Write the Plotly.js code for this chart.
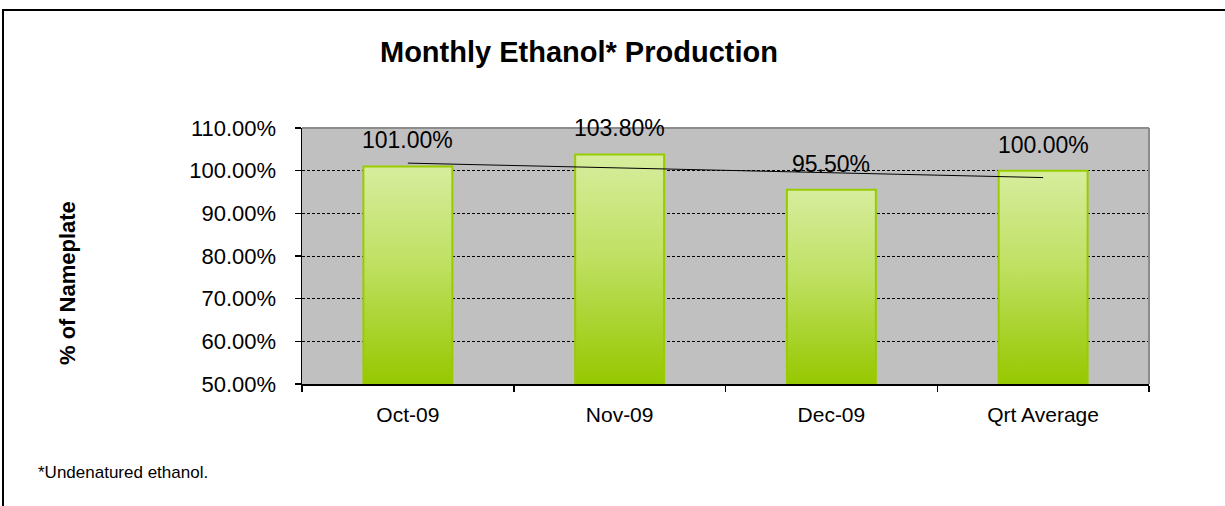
<!DOCTYPE html>
<html>
<head>
<meta charset="utf-8">
<script src="https://cdn.plot.ly/plotly-3.0.1.min.js"></script>
<style>
  html, body { margin: 0; padding: 0; background: #ffffff; }
  #chart { width: 1225px; height: 506px; }
</style>
</head>
<body>
<div id="chart"></div>
<script>
// ---- data ----
const categories = ["Oct-09", "Nov-09", "Dec-09", "Qrt Average"];
const nameplatePct = [101.00, 103.80, 95.50, 100.00];
const yTickVals = [50, 60, 70, 80, 90, 100, 110];
const chartTitle = "Monthly Ethanol* Production";
const yAxisTitle = "% of Nameplate";
const footnote = "*Undenatured ethanol.";

// linear trendline (least squares over the bar values, as in the source chart)
const n = nameplatePct.length;
const xs = nameplatePct.map((_, i) => i + 1);
const mx = xs.reduce((a, b) => a + b, 0) / n;
const my = nameplatePct.reduce((a, b) => a + b, 0) / n;
let sxy = 0, sxx = 0;
for (let i = 0; i < n; i++) { sxy += (xs[i] - mx) * (nameplatePct[i] - my); sxx += (xs[i] - mx) ** 2; }
const slope = sxy / sxx;
const trendVals = xs.map(x => my + slope * (x - mx));

const FONT = '"Liberation Sans", Arial, sans-serif';

const bars = {
  type: 'bar', x: categories, y: nameplatePct, width: 0.42,
  marker: { color: '#b8dc50', line: { color: '#99cc00', width: 2 } },
  hoverinfo: 'x+y'
};
const trend = {
  type: 'scatter', mode: 'lines', x: categories, y: trendVals,
  line: { color: '#000000', width: 1 }, hoverinfo: 'skip'
};

const labelAnns = categories.map((c, i) => ({
  x: c, y: nameplatePct[i], xref: 'x', yref: 'y',
  text: nameplatePct[i].toFixed(2) + '%',
  showarrow: false, yanchor: 'middle', yshift: 26,
  font: { family: FONT, size: 23, color: '#000000' }
}));

const layout = {
  width: 1225, height: 506,
  margin: { l: 302, r: 76, t: 128, b: 122 },
  paper_bgcolor: '#ffffff', plot_bgcolor: '#c0c0c0',
  showlegend: false,
  font: { family: FONT, color: '#000000' },
  title: {
    text: '<b>' + chartTitle + '</b>',
    font: { family: FONT, size: 29, color: '#000000' },
    xref: 'paper', x: 0.327, xanchor: 'center',
    yref: 'container', y: 1 - 52 / 506, yanchor: 'middle'
  },
  xaxis: {
    type: 'category', range: [-0.5, 3.5],
    showline: true, linecolor: '#000000', linewidth: 1.5,
    ticks: 'outside', tickson: 'boundaries', ticklen: 6, tickcolor: '#000000', tickwidth: 1.5,
    ticklabelstandoff: 11,
    tickfont: { family: FONT, size: 21, color: '#000000' },
    showgrid: false, zeroline: false, fixedrange: true
  },
  yaxis: {
    range: [50, 110], tickvals: yTickVals,
    ticktext: yTickVals.map(v => v.toFixed(2) + '%'),
    showline: true, linecolor: '#000000', linewidth: 1.5,
    ticks: 'outside', ticklen: 6, tickcolor: '#000000', tickwidth: 1.5,
    ticklabelstandoff: 14,
    tickfont: { family: FONT, size: 22, color: '#000000' },
    showgrid: true, gridcolor: '#000000', gridwidth: 1, griddash: '3px,2px',
    zeroline: false, fixedrange: true
  },
  shapes: [
    { type: 'line', xref: 'paper', yref: 'paper', x0: 0, x1: 1, y0: 1, y1: 1, line: { color: '#8c8c8c', width: 2 } },
    { type: 'line', xref: 'paper', yref: 'paper', x0: 1, x1: 1, y0: 0, y1: 1, line: { color: '#8c8c8c', width: 2 } },
    { type: 'rect', xref: 'paper', yref: 'paper',
      x0: (3 - 302) / 847, x1: (1245 - 302) / 847,
      y0: (384 - 525) / 256, y1: 1 + (128 - 10) / 256,
      line: { color: '#000000', width: 2 }, fillcolor: 'rgba(0,0,0,0)', layer: 'above' }
  ],
  annotations: labelAnns.concat([
    { xref: 'paper', yref: 'paper', x: (67 - 302) / 847, y: (384 - 283) / 256,
      text: '<b>' + yAxisTitle + '</b>', textangle: -90, showarrow: false,
      xanchor: 'center', yanchor: 'middle',
      font: { family: FONT, size: 22, color: '#000000' } },
    { xref: 'paper', yref: 'paper', x: (36 - 302) / 847, y: (384 - 472) / 256,
      text: footnote, showarrow: false, xanchor: 'left', yanchor: 'middle',
      font: { family: FONT, size: 17, color: '#000000' } }
  ])
};

// vertical gradient per bar over its visible extent (axis bottom -> bar top)
function applyGradient(gd) {
  const ns = 'http://www.w3.org/2000/svg';
  const svg = gd.querySelector('svg.main-svg');
  const ya = gd._fullLayout.yaxis;
  const yBottom = ya.l2p(ya.range[0]);
  let defs = document.getElementById('customDefs');
  if (!defs) {
    defs = document.createElementNS(ns, 'defs');
    defs.setAttribute('id', 'customDefs');
    svg.insertBefore(defs, svg.firstChild);
  }
  defs.innerHTML = '';
  gd.querySelectorAll('.barlayer .point path').forEach((p, i) => {
    const id = 'ethBarGrad' + i;
    const grad = document.createElementNS(ns, 'linearGradient');
    grad.setAttribute('id', id);
    grad.setAttribute('gradientUnits', 'userSpaceOnUse');
    grad.setAttribute('x1', '0'); grad.setAttribute('x2', '0');
    grad.setAttribute('y1', String(ya.l2p(nameplatePct[i])));
    grad.setAttribute('y2', String(yBottom));
    [['0', '#d7ed9e'], ['0.45', '#bfe062'], ['1', '#96c800']].forEach(([o, c]) => {
      const s = document.createElementNS(ns, 'stop');
      s.setAttribute('offset', o);
      s.setAttribute('stop-color', c);
      grad.appendChild(s);
    });
    defs.appendChild(grad);
    p.style.setProperty('fill', 'url(#' + id + ')', 'important');
  });
}

Plotly.newPlot('chart', [bars, trend], layout, { displayModeBar: false, staticPlot: true }).then(gd => {
  applyGradient(gd);
});
</script>
</body>
</html>
